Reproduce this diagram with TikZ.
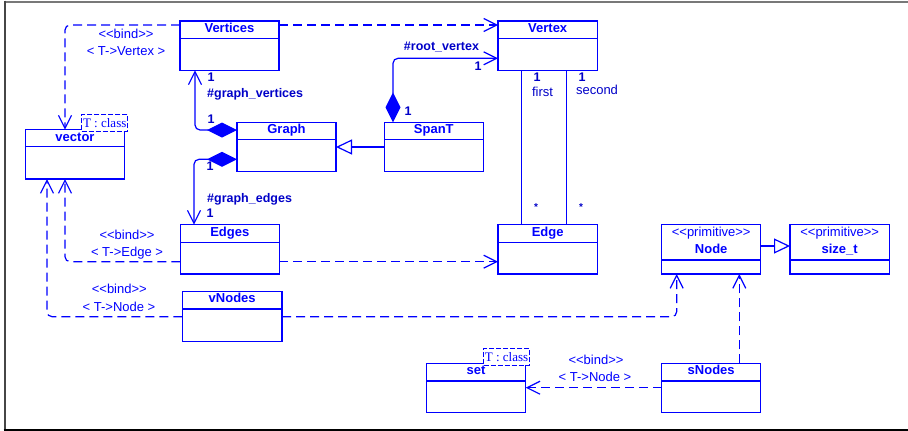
\documentclass[tikz,border=0pt]{standalone}
\usepackage{fontspec}
\setmainfont{Liberation Sans}
\newfontfamily\serifT{Liberation Serif}
\usetikzlibrary{arrows.meta}
\definecolor{umlblue}{RGB}{0,0,255}
\definecolor{umldark}{RGB}{0,0,200}
\definecolor{frametop}{RGB}{120,120,120}
\definecolor{frameleft}{RGB}{70,70,70}
\tikzset{
  clsbox/.style={draw=umlblue, line width=1.2pt, inner sep=0pt, outer sep=0pt, rectangle},
  sepline/.style={draw=umlblue, line width=1.2pt},
  clsname/.style={text=umlblue, font=\fontsize{13}{15}\selectfont\bfseries, inner sep=0pt, text height=0.72em, text depth=0.21em},
  stereo/.style={text=umlblue, font=\fontsize{13}{15}\selectfont, inner sep=0pt, text height=0.72em, text depth=0.21em},
  role/.style={text=umldark, font=\fontsize{12.5}{15}\selectfont\bfseries, inner sep=0pt, text height=0.72em, text depth=0.21em},
  rolereg/.style={text=umldark, font=\fontsize{13}{15}\selectfont, inner sep=0pt, text height=0.72em, text depth=0.21em},
  tparam/.style={draw=umlblue, line width=1pt, dash pattern=on 5pt off 2pt, fill=white, text=umlblue, font=\serifT\fontsize{13}{15}\selectfont, inner sep=0pt, minimum width=46pt, minimum height=16.7pt},
  dep/.style={draw=umlblue, line width=1.2pt, dash pattern=on 9pt off 5pt, rounded corners=5pt, -{Straight Barb[length=13pt,width=13pt,line width=1.2pt]}},
  assoc/.style={draw=umlblue, line width=1.2pt, rounded corners=5pt},
  comp/.style={assoc, {Diamond[length=30pt,width=15pt,fill=umlblue,umlblue]}-{Straight Barb[length=13pt,width=13pt,line width=1.2pt]}},
  gen/.style={assoc, -{Triangle[open,length=16pt,width=15pt,fill=white]}},
}
% name, x1, y1, x2, y2, separator y
\newcommand{\umlcls}[6]{%
  \node[clsbox, minimum width={(#4-#2)*1pt}, minimum height={(#5-#3)*1pt}] (#1) at ({(#2+#4)/2},{(#3+#5)/2}) {};
  \draw[sepline] (#1.west |- 0,#6) -- (#1.east |- 0,#6);
}
\newcommand{\stq}[1]{<{}<#1>{}>}
\begin{document}
\begin{tikzpicture}[x=1pt,y=-1pt]
\useasboundingbox (0,0) rectangle (908,431);
% frame
\draw[frametop, line width=2pt] (4.5,1.5) -- (908,1.5);
\draw[frameleft, line width=2pt] (4.5,0.5) -- (4.5,430);
\draw[black, line width=2pt] (3.5,429.5) -- (908,429.5);

% classes
\umlcls{Vertices}{180}{21}{279}{70.3}{38.3}
\node[clsname] (Vertices-n) at (229.5,29.5) {Vertices};
\umlcls{vector}{25.7}{129.7}{124.3}{179}{146.7}
\node[clsname] (vector-n) at (75,138.5) {vector};
\node[tparam] (vector-t) at (104.7,122.7) {T : class};
\umlcls{Graph}{237}{122.3}{336}{171.7}{139.7}
\node[clsname] (Graph-n) at (286.5,131) {Graph};
\umlcls{SpanT}{384.3}{122.3}{483.3}{171.7}{139.7}
\node[clsname] (SpanT-n) at (433.8,131) {SpanT};
\umlcls{Vertex}{498}{21}{597.3}{70.3}{38.3}
\node[clsname] (Vertex-n) at (547.7,29.5) {Vertex};
\umlcls{Edges}{180.3}{224.7}{279.3}{274}{242.3}
\node[clsname] (Edges-n) at (229.8,233.5) {Edges};
\umlcls{vNodes}{182.3}{291.3}{282}{341.3}{309}
\node[clsname] (vNodes-n) at (232.2,300) {vNodes};
\umlcls{Edge}{498}{224.7}{597.3}{274}{242.3}
\node[clsname] (Edge-n) at (547.7,233.5) {Edge};
\umlcls{set}{426.3}{363.3}{525.7}{412.7}{381}
\node[clsname] (set-n) at (476,372) {set};
\node[tparam] (set-t) at (506.5,357) {T : class};
\umlcls{Node}{661.7}{224.7}{760.7}{274}{260}
\node[stereo] (Node-s) at (711.2,234) {\stq{primitive}};
\node[clsname] (Node-n) at (711.2,250.7) {Node};
\umlcls{sizet}{790}{224.7}{889.3}{274}{260}
\node[stereo] (sizet-s) at (839.7,234) {\stq{primitive}};
\node[clsname] (sizet-n) at (839.7,250.7) {size\_t};
\umlcls{sNodes}{661.7}{363.3}{760.7}{412.7}{381}
\node[clsname] (sNodes-n) at (711.2,372) {sNodes};

% connectors
\draw[dep] (Vertices.west |- 0,25) -| (vector.north -| 65,0);
\draw[dep] (Vertices.east |- 0,25) -- (Vertex.west |- 0,25);
\draw[comp] (Graph.west |- 0,130) -| (Vertices.south -| 195,0);
\draw[comp] (Graph.west |- 0,159.3) -| (Edges.north -| 194,0);
\draw[gen] (SpanT.west |- 0,147) -- (Graph.east |- 0,147);
\draw[comp] (SpanT.north -| 393,0) |- (Vertex.west |- 0,58.3);
\draw[assoc] (Vertex.south -| 521.7,0) -- (Edge.north -| 521.7,0);
\draw[assoc] (Vertex.south -| 566.3,0) -- (Edge.north -| 566.3,0);
\draw[dep] (Edges.west |- 0,261.7) -| (vector.south -| 65,0);
\draw[dep] (Edges.east |- 0,261.7) -- (Edge.west |- 0,261.7);
\draw[dep] (vNodes.west |- 0,316.7) -| (vector.south -| 47,0);
\draw[dep] (vNodes.east |- 0,316.7) -| (Node.south -| 676.7,0);
\draw[dep] (sNodes.north -| 739.3,0) -- (Node.south -| 739.3,0);
\draw[dep] (sNodes.west |- 0,387.7) -- (set.east |- 0,387.7);
\draw[gen] (Node.east |- 0,246) -- (sizet.west |- 0,246);

% labels
\node[stereo] (b1) at (126,35.7) {\stq{bind}};
\node[stereo] (b1a) at (126,53.3) {< T->Vertex >};
\node[stereo] (b2) at (127,236.7) {\stq{bind}};
\node[stereo] (b2a) at (127,254) {< T->Edge >};
\node[stereo] (b3) at (119.3,290.7) {\stq{bind}};
\node[stereo] (b3a) at (119,308.7) {< T->Node >};
\node[stereo] (b4) at (596,362) {\stq{bind}};
\node[stereo] (b4a) at (595,378.7) {< T->Node >};

\node[role] (m1) at (211,79) {1};
\node[role, anchor=west] (r1) at (207,94.7) {\#graph\_vertices};
\node[role] (m2) at (211,121) {1};
\node[role] (m3) at (210,168) {1};
\node[role, anchor=west] (r2) at (207,200) {\#graph\_edges};
\node[role] (m4) at (210,215) {1};
\node[role] (r3) at (441.5,48.3) {\#root\_vertex};
\node[role] (m5) at (478,67.5) {1};
\node[role] (m6) at (408,112.5) {1};
\node[role] (m7) at (537,79) {1};
\node[rolereg] (r4) at (542.5,94.3) {first};
\node[role] (m8) at (582,79) {1};
\node[rolereg] (r5) at (597,92.3) {second};
\node[role, font=\fontsize{10}{12}\selectfont\bfseries] (m9) at (536,208) {*};
\node[role, font=\fontsize{10}{12}\selectfont\bfseries] (m10) at (581,208) {*};
\end{tikzpicture}
\end{document}
